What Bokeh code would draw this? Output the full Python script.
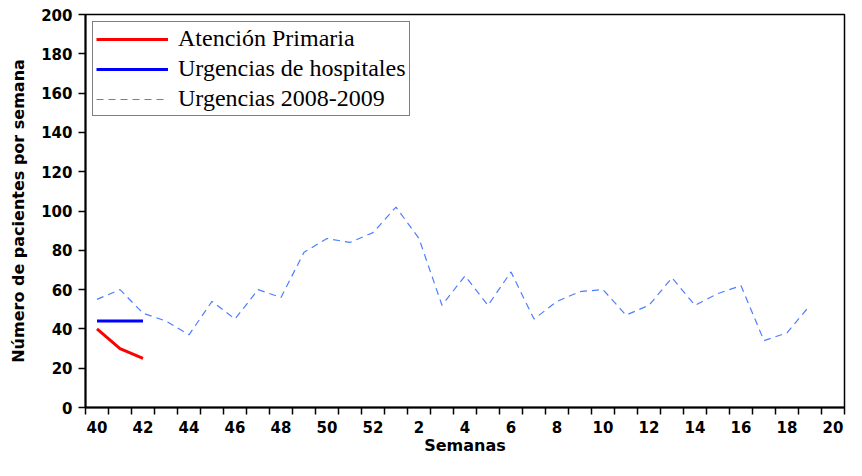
from bokeh.plotting import figure
from bokeh.models import FixedTicker, Legend, LegendItem
from bokeh.embed import file_html
from bokeh.resources import INLINE

# Weeks (axis: 40..52 then 1..20)
weeks = [40, 41, 42, 43, 44, 45, 46, 47, 48, 49, 50, 51, 52,
         1, 2, 3, 4, 5, 6, 7, 8, 9, 10, 11, 12, 13, 14, 15, 16, 17, 18, 19, 20]
tick_weeks = [40, 42, 44, 46, 48, 50, 52, 2, 4, 6, 8, 10, 12, 14, 16, 18, 20]

# Series
atencion_weeks = [40, 41, 42]
atencion_vals = [40, 30, 25]
urg_hosp_weeks = [40, 41, 42]
urg_hosp_vals = [44, 44, 44]
urg_0809_weeks = [40, 41, 42, 43, 44, 45, 46, 47, 48, 49, 50, 51, 52,
                  1, 2, 3, 4, 5, 6, 7, 8, 9, 10, 11, 12, 13, 14, 15, 16, 17, 18, 19]
urg_0809_vals = [55, 60, 48, 44, 37, 54, 45, 60, 56, 79, 86, 84, 89,
                 102, 86, 52, 67, 52, 69, 45, 54, 59, 60, 47, 52, 66, 52, 58, 62, 34, 38, 52]

pos = {w: i for i, w in enumerate(weeks)}

p = figure(width=846, height=460, output_backend="svg", toolbar_location=None,
           x_range=(-0.5, len(weeks) - 0.5), y_range=(0, 200),
           min_border_left=85, min_border_right=2, min_border_top=14, min_border_bottom=53)
p.frame_width = 759
p.frame_height = 393

r_dash = p.line([pos[w] for w in urg_0809_weeks], urg_0809_vals,
                line_color="#4f7dff", line_width=1.2, line_dash="7 5")
r_hosp = p.line([pos[w] for w in urg_hosp_weeks], urg_hosp_vals,
                line_color="#0000ff", line_width=3)
r_aten = p.line([pos[w] for w in atencion_weeks], atencion_vals,
                line_color="#ff0000", line_width=3)

p.xgrid.visible = False
p.ygrid.visible = False
p.outline_line_color = "black"
p.outline_line_width = 1.5
p.background_fill_color = "white"
p.border_fill_color = "white"

# X axis
xt = [pos[w] for w in tick_weeks]
p.xaxis.ticker = FixedTicker(ticks=xt, minor_ticks=[i - 0.5 for i in range(len(weeks) + 1)])
p.xaxis.major_label_overrides = {pos[w]: str(w) for w in tick_weeks}
p.xaxis.major_tick_line_color = None
p.xaxis.major_tick_out = 7
p.xaxis.major_tick_in = 0
p.xaxis.minor_tick_out = 7
p.xaxis.minor_tick_in = 0
p.xaxis.minor_tick_line_color = "black"
p.xaxis.minor_tick_line_width = 1.5
p.xaxis.major_label_standoff = 6
p.xaxis.axis_label = "Semanas"
p.xaxis.axis_label_standoff = 0

# Y axis
p.yaxis.ticker = FixedTicker(ticks=list(range(0, 201, 20)))
p.yaxis.minor_tick_line_color = None
p.yaxis.major_tick_out = 7
p.yaxis.major_tick_in = 0
p.yaxis.major_tick_line_width = 1.5
p.yaxis.major_label_standoff = 6
p.yaxis.axis_label = "Número de pacientes por semana"
p.yaxis.axis_label_standoff = 10

for ax in (p.xaxis, p.yaxis):
    ax.axis_line_color = "black"
    ax.axis_line_width = 2
    ax.major_label_text_font = "DejaVu Sans"
    ax.major_label_text_font_style = "bold"
    ax.major_label_text_font_size = "15px"
    ax.major_label_text_color = "black"
    ax.axis_label_text_font = "DejaVu Sans"
    ax.axis_label_text_font_style = "bold"
    ax.axis_label_text_font_size = "16px"
    ax.axis_label_text_color = "black"

legend = Legend(items=[
    LegendItem(label="Atención Primaria", renderers=[r_aten]),
    LegendItem(label="Urgencias de hospitales", renderers=[r_hosp]),
    LegendItem(label="Urgencias 2008-2009", renderers=[r_dash]),
], location="top_left")
legend.margin = 7
legend.padding = 3
legend.spacing = 3
legend.glyph_width = 72
legend.glyph_height = 26
legend.label_height = 26
legend.label_standoff = 10
legend.label_text_font = "Liberation Serif"
legend.label_text_font_size = "24px"
legend.label_text_color = "black"
legend.border_line_color = "black"
legend.border_line_width = 1.2
legend.background_fill_color = "white"
legend.background_fill_alpha = 1
p.add_layout(legend)

open("out.html", "w").write(file_html(p, INLINE))
